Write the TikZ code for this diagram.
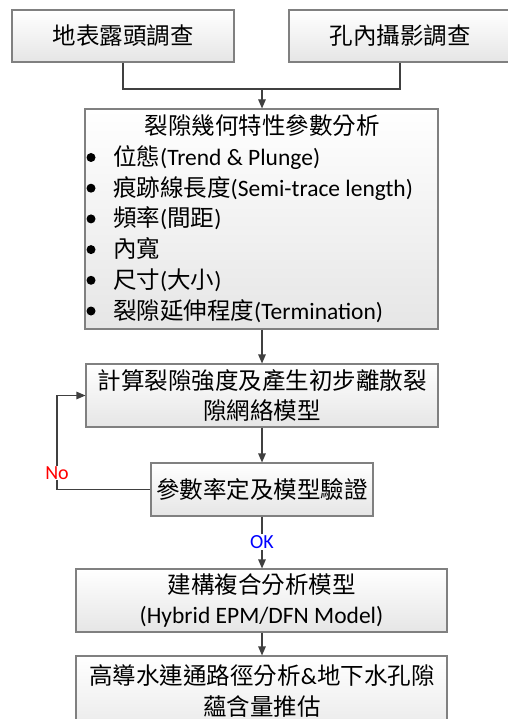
\documentclass[tikz,border=0pt]{standalone}
\usepackage{fontspec}
\setmainfont{Carlito}
\newfontfamily\cjk{Noto Sans CJK TC}
\usetikzlibrary{arrows.meta,shadows}
\newcommand{\zh}[1]{{\cjk #1}}
\begin{document}
\begin{tikzpicture}[x=1pt,y=-1pt,
  box/.style={draw=black!50, line width=1.1pt, top color=white, bottom color=black!10,
    drop shadow={shadow xshift=1.3pt, shadow yshift=-1.3pt, fill=black!45, opacity=1},
    inner sep=0pt, font=\fontsize{23.5}{30}\selectfont, align=center},
  conn/.style={draw=black!75, line width=1.1pt},
  arr/.style={conn, -{Triangle[length=9pt,width=7.5pt]}},
  txt/.style={font=\fontsize{23.5}{30}\selectfont, inner sep=0pt, text height=20pt, text depth=4pt},
  bul/.style={circle, fill=black, inner sep=0pt, minimum size=9pt},
  lbl/.style={font=\fontsize{20}{22}\selectfont, fill=white, inner sep=1pt}]
\useasboundingbox (0,0) rectangle (507,719);

% boxes
\node[box, minimum width=222pt, minimum height=52pt] (b1) at (123,36) {\zh{地表露頭調查}};
\node[box, minimum width=222pt, minimum height=52pt] (b2) at (400,36) {\zh{孔內攝影調查}};
\node[box, minimum width=353pt, minimum height=220pt] (b3) at (261.5,219) {};
\node[box, minimum width=352pt, minimum height=63pt] (b4) at (262,395.5) {\zh{計算裂隙強度及產生初步離散裂}\\\zh{隙網絡模型}};
\node[box, minimum width=222pt, minimum height=53pt] (b5) at (262,489.5) {\zh{參數率定及模型驗證}};
\node[box, minimum width=371pt, minimum height=63pt] (b6) at (261.5,600.5) {\zh{建構複合分析模型}\\(Hybrid EPM/DFN Model)};
\node[box, minimum width=371pt, minimum height=89pt] (b7) at (261.5,700.5) {};

% text inside the large box
\node[txt] (t0) at (262,127) {\zh{裂隙幾何特性參數分析}};
\foreach \i/\yy/\t in {1/157.5/{\zh{位態}(Trend \& Plunge)},
                       2/188.2/{\zh{痕跡線長度}(Semi-trace length)},
                       3/218.9/{\zh{頻率}(\zh{間距})},
                       4/249.6/{\zh{內寬}},
                       5/280.3/{\zh{尺寸}(\zh{大小})},
                       6/311/{\zh{裂隙延伸程度}(Termination)}}{
  \node[bul] (u\i) at (91,\yy) {};
  \node[txt, anchor=west] (l\i) at (113,\yy) {\t};
}

% text of the last box
\node[font=\fontsize{23.5}{31}\selectfont, align=center, inner sep=0pt] (t7) at (262,691) {\zh{高導水連通路徑分析}\&\zh{地下水孔隙}\\\zh{蘊含量推估}};

% connectors
\coordinate (j) at (262,89);
\draw[conn] (b1.south) -- (b1.south |- j) -- (b2.south |- j) -- (b2.south);
\draw[arr] (j) -- (b3.north -| j);
\draw[arr] (b3.south -| j) -- (b4.north -| j);
\draw[arr] (b4.south -| j) -- (b5.north -| j);
\draw[arr] (b5.south -| j) -- (b6.north -| j);
\draw[arr] (b6.south -| j) -- (b7.north -| j);
\coordinate (lp) at (57,489.5);
\draw[arr] (b5.west) -- (lp) |- (b4.west);

% labels
\node[lbl, text=red] (no) at (57,473) {No};
\node[lbl, text=blue] (ok) at (262,542) {OK};
\end{tikzpicture}
\end{document}
